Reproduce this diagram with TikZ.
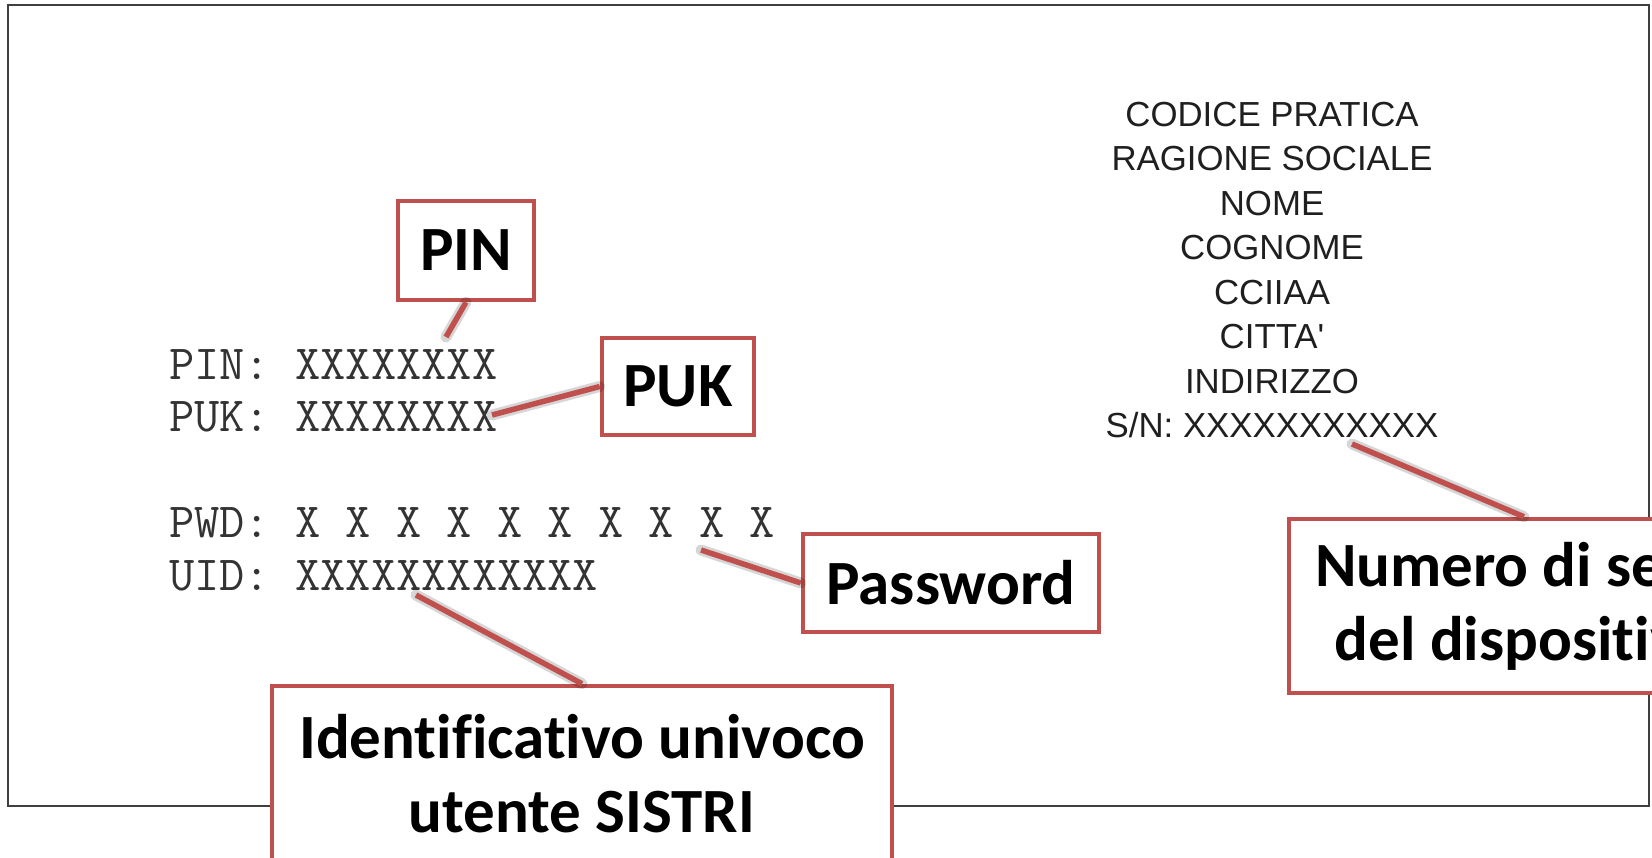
\documentclass[tikz,border=0pt]{standalone}
\usepackage{fontspec}
\newfontfamily\calloutfont{Carlito}[Ligatures=NoCommon]
\newfontfamily\cardfont{Liberation Sans}
\definecolor{calloutred}{HTML}{C0504D}
\definecolor{framegray}{HTML}{3F3F3F}
\begin{document}
\begin{tikzpicture}[x=1pt,y=-1pt,
  callout/.style={draw=calloutred, line width=4.5pt, fill=white,
    font=\calloutfont\bfseries\fontsize{63}{74}\selectfont, align=center, inner sep=0pt},
  leader/.style={draw=calloutred, line width=5.5pt},
  leadershadow/.style={draw=black, opacity=0.16, line width=11pt, line cap=round},
  code/.style={font=\ttfamily\fontsize{49}{58}\selectfont, text=black!80, anchor=base west, inner sep=0pt},
  card/.style={font=\cardfont\fontsize{34.8}{42}\selectfont, text=black!88, anchor=base, inner sep=0pt}]
\useasboundingbox (0,0) rectangle (1652,857);
\clip (0,0) rectangle (1652,857);
\fill[white] (0,0) rectangle (1652,857);

% card outline
\draw[framegray, line width=2pt] (8,5) rectangle (1649,806);

% credentials printed on the card
\node[code] (pin) at (169,379) {PIN: XXXXXXXX};
\node[code] (puk) at (169,431) {PUK: XXXXXXXX};
\node[code] (pwd) at (169,537) {PWD: X X X X X X X X X X};
\node[code] (uid) at (169,590) {UID: XXXXXXXXXXXX};

% holder data
\node[card] (codice)  at (1272,126)   {CODICE PRATICA};
\node[card] (ragione) at (1272,170.5) {RAGIONE SOCIALE};
\node[card] (nome)    at (1272,215)   {NOME};
\node[card] (cognome) at (1272,259.5) {COGNOME};
\node[card] (cciaa)   at (1272,304)   {CCIIAA};
\node[card] (citta)   at (1272,348.5) {CITTA'};
\node[card] (indir)   at (1272,393)   {INDIRIZZO};
\node[card] (sn)      at (1272,437.5) {S/N: XXXXXXXXXXX};

% free ends of the leaders
\coordinate (pinTip) at (446,337);
\coordinate (pukTip) at (492,415);
\coordinate (pwdTip) at (701,550);
\coordinate (uidTip) at (416,595);
\coordinate (snTip)  at (1352,444);

% callout boxes
\node[callout, minimum width=136pt, minimum height=99pt] (pinbox) at (466,250.5) {PIN};
\node[callout, minimum width=152pt, minimum height=97pt] (pukbox) at (678,386.5) {PUK};
\node[callout, minimum width=296pt, minimum height=98pt] (pwdbox) at (951,583) {Password};
\node[callout, minimum width=620pt, minimum height=176pt] (idbox) at (582,774)
  {Identificativo univoco\\utente SISTRI};
\node[callout, minimum width=470pt, minimum height=174pt] (numbox) at (1524,606)
  {Numero di serie\\del dispositivo};

% leader shadows
\begin{scope}[shift={(3,6)}]
  \draw[leadershadow] (pinbox.south) -- (pinTip);
  \draw[leadershadow] (pukbox.west) -- (pukTip);
  \draw[leadershadow] (pwdbox.west) -- (pwdTip);
  \draw[leadershadow] (idbox.north) -- (uidTip);
  \draw[leadershadow] (numbox.north) -- (snTip);
\end{scope}

% leaders
\draw[leader] (pinbox.south) -- (pinTip);
\draw[leader] (pukbox.west) -- (pukTip);
\draw[leader] (pwdbox.west) -- (pwdTip);
\draw[leader] (idbox.north) -- (uidTip);
\draw[leader] (numbox.north) -- (snTip);
\end{tikzpicture}
\end{document}
